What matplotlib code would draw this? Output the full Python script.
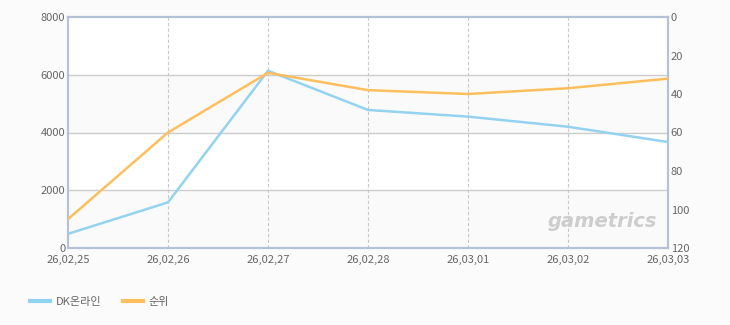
import matplotlib.pyplot as plt

plt.rcParams['font.family'] = ['Noto Sans CJK KR', 'DejaVu Sans']

# data
dates = ['26,02,25', '26,02,26', '26,02,27', '26,02,28', '26,03,01', '26,03,02', '26,03,03']
users = [490, 1580, 6140, 4780, 4550, 4200, 3670]   # DK온라인 (left axis)
rank = [105, 60, 29, 38, 40, 37, 32]                # 순위 (right axis, inverted)
left_ticks = [0, 2000, 4000, 6000, 8000]
right_ticks = [0, 20, 40, 60, 80, 100, 120]

blue = '#94d3f0'
orange = '#fdbf5e'
frame = '#b3c3d5'
txt = '#666666'

fig = plt.figure(figsize=(7.3, 3.25), dpi=100)
fig.patch.set_facecolor('#fbfbfb')
ax = fig.add_axes([68 / 730, 77 / 325, 600 / 730, 231 / 325])
ax.set_facecolor('white')

x = list(range(len(dates)))
ax.set_xlim(0, len(dates) - 1)
ax.set_ylim(0, 8000)

# alternating bands
for i in range(len(left_ticks) - 1):
    if i % 2 == 0:
        ax.axhspan(left_ticks[i], left_ticks[i + 1], color='#fafafa', zorder=0, lw=0)

for v in left_ticks[1:-1]:
    ax.axhline(v, color='#cccccc', lw=1, zorder=1)
for xi in x[1:-1]:
    ax.axvline(xi, color='#c8c8c8', lw=0.8, ls=(0, (3, 2)), zorder=1)

ax.plot(x, users, color=blue, lw=1.8, zorder=3, solid_capstyle='butt')

ax2 = ax.twinx()
ax2.set_ylim(120, 0)
ax2.plot(x, rank, color=orange, lw=1.8, zorder=3, solid_capstyle='butt')

ax.set_xticks(x)
ax.set_xticklabels(dates)
ax.set_yticks(left_ticks)
ax2.set_yticks(right_ticks)

for a in (ax, ax2):
    a.tick_params(length=0, labelsize=8, colors=txt, pad=2)
    for s in a.spines.values():
        s.set_color(frame)
        s.set_linewidth(1.5)
ax.tick_params(axis='x', pad=5)

ax.text(0.982, 0.075, 'gametrics', transform=ax.transAxes, ha='right', va='bottom',
        fontsize=14, fontweight='bold', style='italic', color='#cdcdcd',
        family='DejaVu Sans', zorder=2)

# legend at the bottom
h1, = ax.plot([], [], color=blue, lw=3)
h2, = ax.plot([], [], color=orange, lw=3)
fig.legend([h1, h2], ['DK온라인', '순위'], loc='lower left', bbox_to_anchor=(20 / 730, 8 / 325),
           ncol=2, frameon=False, fontsize=8, labelcolor=txt, handlelength=1.8,
           handletextpad=0.5, columnspacing=2.0)

fig.savefig('out.png', dpi=100, facecolor=fig.get_facecolor())
